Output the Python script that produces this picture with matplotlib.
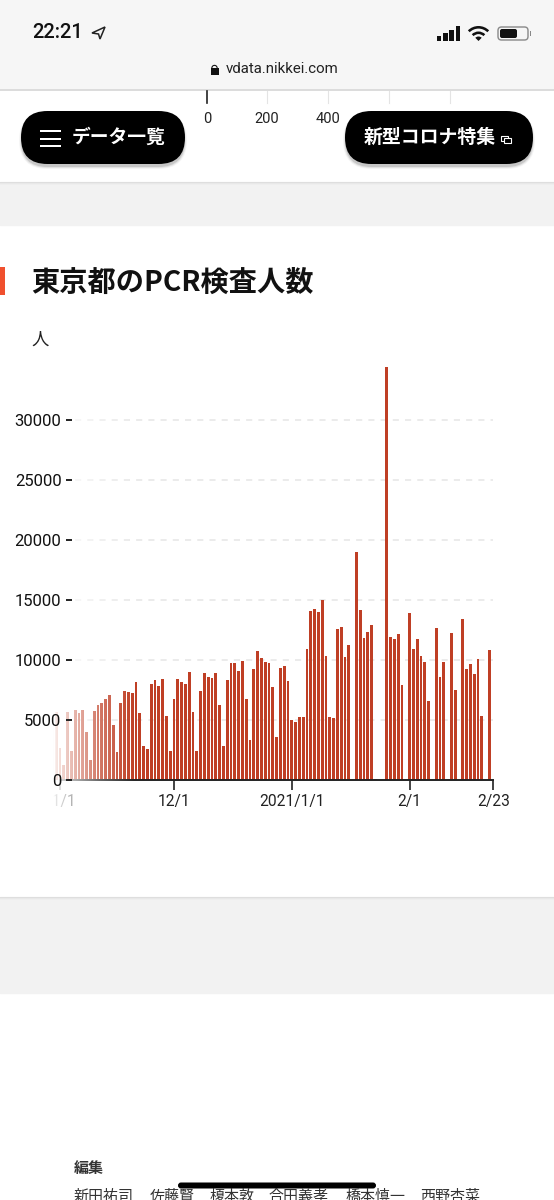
import matplotlib
matplotlib.use('Agg')
import matplotlib.pyplot as plt
import matplotlib.dates as mdates
from matplotlib.patches import FancyBboxPatch, Rectangle, Wedge, Polygon
import numpy as np
import pandas as pd

plt.rcParams['font.family'] = ['Roboto', 'Noto Sans CJK JP', 'DejaVu Sans']

# daily PCR tests (0 = no bar that day)
oct_vals = [4700, 5700]
nov_vals = [2640, 1250, 5700, 2420, 5810, 5560, 5870, 4000, 1670, 5750,
            6250, 6420, 6780, 7060, 4590, 2335, 6390, 7390, 7340, 7230,
            8145, 5560, 2835, 2560, 7980, 8310, 7840, 8400, 5310, 2450]
dec_vals = [6780, 8420, 8200, 8030, 9000, 5640, 2390, 7420, 8950, 8560,
            8480, 8900, 6230, 2835, 8340, 9730, 9730, 9120, 9900, 6780,
            3360, 9260, 10790, 10150, 9840, 9730, 7730, 3560, 9370, 9510, 8230]
jan_vals = [5000, 4865, 5280, 5230, 10900, 14100, 14260, 14040, 15000, 10340,
            5280, 5140, 12570, 12760, 10290, 11260, 0, 19000, 14180, 11840,
            12370, 12930, 80, 0, 0, 34400, 11930, 11730, 12180, 7920, 0]
feb_vals = [13900, 10950, 11730, 10340, 9810, 6560, 0, 12650, 8590, 9840, 0,
            12290, 7500, 0, 13450, 9230, 9700, 8810, 10090, 5340, 0, 10840]
values = oct_vals + nov_vals + dec_vals + jan_vals + feb_vals
days = pd.date_range('2020-10-30', periods=len(values), freq='D')

y_ticks = [0, 5000, 10000, 15000, 20000, 25000, 30000]
x_ticks = pd.to_datetime(['2020-11-01', '2020-12-01', '2021-01-01', '2021-02-01', '2021-02-23'])
x_labels = ['11/1', '12/1', '2021/1/1', '2/1', '2/23']
names = ['新田祐司', '佐藤賢', '榎本敦', '合田義孝', '橋本慎一', '西野杏菜']
names_x = [74, 150, 209, 269, 345, 420]
top_ticks = [0, 200, 400, 600, 800]
top_x = [207, 267, 328, 389, 450]

W, H = 554, 1200
fig = plt.figure(figsize=(W / 100, H / 100), dpi=100, facecolor='white')


def rect(x0, y0, x1, y1):
    # pixel box (y down) -> figure fractions
    return [x0 / W, 1 - y1 / H, (x1 - x0) / W, (y1 - y0) / H]


def px_axes(zorder):
    a = fig.add_axes([0, 0, 1, 1], zorder=zorder)
    a.set_xlim(0, W)
    a.set_ylim(H, 0)
    a.axis('off')
    a.patch.set_alpha(0)
    return a


# page background
bg = px_axes(0)
bg.add_patch(Rectangle((0, 182), W, 43, color='#f2f2f2'))
bg.add_patch(Rectangle((0, 897), W, 96, color='#f2f2f2'))
for i, c in enumerate(['#dedede', '#e8e8e8', '#eeeeee']):
    bg.add_patch(Rectangle((0, 182 + i), W, 1, color=c, lw=0))
    bg.add_patch(Rectangle((0, 897 + i), W, 1, color=c, lw=0))
bg.add_patch(Rectangle((0, 267), 5, 28, color='#f0502e', lw=0))
bg.text(31.5, 283, '東京都のPCR検査人数', fontsize=20.3, fontweight='bold', color='#111111', va='center',
        family=['Noto Sans CJK JP', 'DejaVu Sans'])
bg.text(31.5, 340, '人', fontsize=12.5, color='#222222', va='center')

# bars
left, right, top, base = 50, 495, 367, 780
day_px = 3.8
dec1 = mdates.date2num(pd.Timestamp('2020-12-01'))
ax = fig.add_axes(rect(left, top, right, base), zorder=1)
ax.patch.set_alpha(0)
ax.hlines(y_ticks[1:], pd.Timestamp('2020-11-05'), pd.Timestamp('2021-02-23'),
          color='#e6e6e6', lw=1.1, linestyles=(0, (4, 4)), zorder=1)
ax.bar(days, values, width=2.7 / day_px, color='#bf3f25', zorder=2)
ax.set_xlim(dec1 + (left - 174) / day_px, dec1 + (right - 174) / day_px)
ax.set_ylim(0, (base - top) * 5000 / 60)
ax.set_yticks([])
ax.set_xticks(x_ticks)
ax.set_xticklabels(x_labels, fontsize=11.2, color='#222222')
ax.tick_params(axis='x', length=7.5, width=1.2, color='#222222', pad=2.5)
for s in ['top', 'left', 'right']:
    ax.spines[s].set_visible(False)
ax.spines['bottom'].set_linewidth(1.4)
ax.spines['bottom'].set_color('#222222')
ax.spines['bottom'].set_bounds(mdates.date2num(pd.Timestamp('2020-11-01')), mdates.date2num(pd.Timestamp('2021-02-23')))

# white fade over the left end of the chart
fade = px_axes(2)
fx = np.arange(40, 136)
fa = np.interp(fx, [40, 53.5, 56, 70, 100, 135], [1, 1, .88, .68, .3, 0])
grad = np.ones((1, len(fx), 4))
grad[0, :, 3] = fa
fade.imshow(grad, extent=(40, 135, 825, 360), aspect='auto', interpolation='bilinear')
fade.set_xlim(0, W)
fade.set_ylim(H, 0)

# y axis sits above the fade
ax_y = fig.add_axes(rect(72, top, right, base), zorder=3)
ax_y.patch.set_alpha(0)
ax_y.set_ylim(ax.get_ylim())
ax_y.set_yticks(y_ticks)
ax_y.set_yticklabels([str(v) for v in y_ticks], fontsize=12, color='#111111')
ax_y.tick_params(axis='y', length=4, width=1.4, color='#222222', pad=3.5)
ax_y.set_xticks([])
for s in ax_y.spines.values():
    s.set_visible(False)

# phone chrome and floating buttons
ui = px_axes(4)
ui.add_patch(Rectangle((0, 0), W, 89, color='#f6f6f6', lw=0))
ui.add_patch(Rectangle((0, 89), W, 2, color='#dcdcdc', lw=0))
ui.text(32, 33, '22:21', fontsize=14.5, fontweight='medium', color='#111111', va='center')
ui.add_patch(Polygon([[92, 33], [105, 27], [100, 39], [98.5, 34]], closed=True, fc='none', ec='#222222', lw=1.1))
for i, h in enumerate([5, 8, 11, 15]):
    ui.add_patch(Rectangle((437 + i * 6.2, 41 - h), 4.4, h, color='#111111', lw=0))
for r, wd in [(15, 2.6), (9.5, 2.6), (4.5, 4.5)]:
    ui.add_patch(Wedge((478.5, 41), r, 225, 315, width=wd, color='#111111', lw=0))
ui.add_patch(FancyBboxPatch((498, 27), 30, 13, boxstyle='round,pad=0,rounding_size=3.5',
                            fc='none', ec='#888888', lw=1))
ui.add_patch(FancyBboxPatch((500, 29), 17, 9, boxstyle='round,pad=0,rounding_size=2', color='#111111', lw=0))
ui.add_patch(Rectangle((529.5, 31), 1.3, 5, color='#888888', lw=0))
ui.add_patch(Rectangle((210.5, 68), 8, 7, color='#111111', lw=0))
ui.add_patch(Wedge((214.5, 68), 3.2, 180, 360, width=1.1, color='#111111', lw=0))
ui.text(226, 69, 'vdata.nikkei.com', fontsize=10.8, color='#222222', va='center')

# end of the previous chart, scrolled under the address bar
for v, x in zip(top_ticks, top_x):
    dark = v == 0
    ui.plot([x, x], [91, 103], color='#222222' if dark else '#e4e4e4', lw=1.2 if dark else 0.8)
    if v < 600:
        ui.text(x, 119, str(v), fontsize=10.5, color='#222222', ha='center', va='center')

for x0, x1 in [(21, 185), (345, 533)]:
    for grow, alpha in [(2, .04), (1, .07), (0, .12)]:
        ui.add_patch(FancyBboxPatch((x0 - grow, 111 + 3 - grow), x1 - x0 + 2 * grow, 53 + 2 * grow,
                                    boxstyle='round,pad=0,rounding_size=%g' % (26.5 + grow),
                                    color='black', alpha=alpha, lw=0))
    ui.add_patch(FancyBboxPatch((x0, 111), x1 - x0, 53, boxstyle='round,pad=0,rounding_size=26.5',
                                color='black', lw=0))
for y in [131, 138.5, 146]:
    ui.add_patch(Rectangle((40, y - 1), 21, 2.2, color='white', lw=0))
ui.text(72, 138, 'データ一覧', fontsize=13.5, fontweight='bold', color='white', va='center')
ui.text(364, 138, '新型コロナ特集', fontsize=13.6, fontweight='bold', color='white', va='center')
ui.add_patch(Rectangle((501, 136), 7, 5, fc='none', ec='white', lw=0.8))
ui.add_patch(Rectangle((503.5, 138), 7, 5, fc='black', ec='white', lw=0.8))

# credits at the bottom, cut off by the screen
ui.text(74, 1169, '編集', fontsize=10.8, fontweight='bold', color='#333333', va='center')
for n, x in zip(names, names_x):
    ui.text(x, 1197, n, fontsize=10.8, color='#333333', va='center')
ui.add_patch(FancyBboxPatch((178, 1182.5), 198, 6, boxstyle='round,pad=0,rounding_size=3', color='black', lw=0))

fig.savefig('out.png', dpi=100)
